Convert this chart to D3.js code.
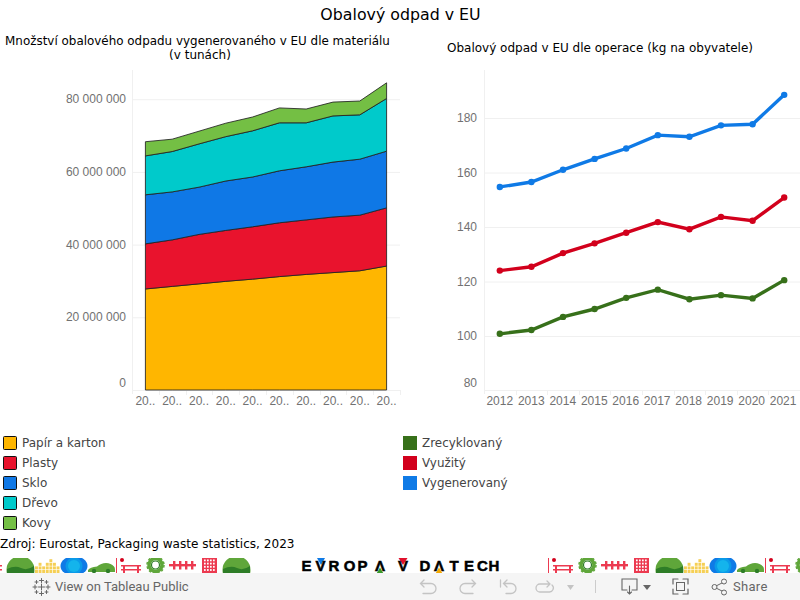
<!DOCTYPE html>
<html><head><meta charset="utf-8">
<script src="https://cdn.jsdelivr.net/npm/d3@7"></script>
<style>html,body{margin:0;padding:0;background:#fff;overflow:hidden}svg{display:block}</style>
</head><body><svg id="c" width="800" height="600"></svg>
<script>
const years=[2012,2013,2014,2015,2016,2017,2018,2019,2020,2021];
const materials=["Papír a karton","Plasty","Sklo","Dřevo","Kovy"];
const materialColors=["#ffb600","#e9132d","#0f78e6","#00cacb","#74bf44"];
const papir=[27.8,28.5,29.2,29.9,30.5,31.2,31.8,32.3,32.8,34.1];
const plasty=[12.4,12.8,13.6,14.0,14.4,14.8,15.0,15.3,15.3,16.0];
const sklo=[13.5,13.2,13.0,13.6,13.7,14.3,14.6,15.1,15.4,15.6];
const drevo=[10.7,11.1,11.9,12.2,12.7,13.2,12.1,12.7,12.2,14.5];
const kovy=[3.9,3.4,3.5,3.7,3.8,4.1,3.8,3.8,3.8,4.3];
const operations=["Zrecyklovaný","Využitý","Vygenerovaný"];
const opColors=["#37701a","#d2001c","#0f7ae6"];
const zrecyklovany=[100.8,102.2,107.0,109.9,114.0,117.0,113.5,115.0,113.8,120.5];
const vyuzity=[124.0,125.4,130.4,134.0,137.9,141.8,139.2,143.7,142.3,150.8];
const vygenerovany=[154.7,156.5,161.0,165.0,168.8,173.7,173.1,177.3,177.7,188.5];
const leftTicks=[0,20,40,60,80];
const rightTicks=[80,100,120,140,160,180];

const svg=d3.select("#c");
const DJ="DejaVu Sans",AR="Liberation Sans";
const txt=(x,y,s,o={})=>svg.append("text").attr("x",x).attr("y",y).text(s)
  .attr("font-family",o.f||DJ).attr("font-size",o.z||12).attr("fill",o.c||"#000")
  .attr("text-anchor",o.a||"start");
txt(400.5,20,"Obalový odpad v EU",{z:15.8,a:"middle"});
txt(197.5,45,"Množství obalového odpadu vygenerovaného v EU dle materiálu",{z:11.93,a:"middle"});
txt(200,59,"(v tunách)",{a:"middle"});
txt(600,52,"Obalový odpad v EU dle operace (kg na obyvatele)",{a:"middle"});

const grid="#f0f0f0",tickC="#717171";
// left chart
const xL=d3.scaleBand().domain(years).range([132,400]);
const cx=d=>xL(d)+xL.bandwidth()/2;
const yL=d3.scaleLinear().domain([0,80]).range([390,99.2]);
leftTicks.forEach(t=>svg.append("line").attr("x1",132).attr("x2",400).attr("y1",yL(t)+.5).attr("y2",yL(t)+.5).attr("stroke",grid));
svg.append("line").attr("x1",132.5).attr("x2",132.5).attr("y1",70).attr("y2",394).attr("stroke",grid);
years.forEach((d,i)=>{const x=Math.round(xL(d)+xL.step());
  svg.append("line").attr("x1",x+.5).attr("x2",x+.5).attr("y1",390).attr("y2",395).attr("stroke",grid);
  txt(cx(d),405,"20..",{f:AR,c:tickC,a:"middle"});});
leftTicks.forEach(t=>{const lab=t?t+" 000 000":"0";
  txt(126,t===0?387:yL(t)+4,lab,{f:AR,c:tickC,a:"end"});});
const rows=years.map((y,i)=>({y,m0:papir[i],m1:plasty[i],m2:sklo[i],m3:drevo[i],m4:kovy[i]}));
const stack=d3.stack().keys(["m0","m1","m2","m3","m4"])(rows);
const area=d3.area().x(d=>cx(d.data.y)).y0(d=>yL(d[0])).y1(d=>yL(d[1]));
svg.selectAll(".a").data(stack).join("path").attr("d",area)
  .attr("fill",(d,i)=>materialColors[i]).attr("stroke","#222").attr("stroke-width",1).attr("stroke-opacity",.85);

// right chart
const xR=d3.scaleBand().domain(years).range([484,800]);
const rx=d=>xR(d)+xR.bandwidth()/2;
const yR=d3.scaleLinear().domain([100,180]).range([336,118]);
rightTicks.filter(t=>t>80).forEach(t=>svg.append("line").attr("x1",484).attr("x2",800).attr("y1",yR(t)+.5).attr("y2",yR(t)+.5).attr("stroke",grid));
svg.append("line").attr("x1",484).attr("x2",800).attr("y1",390.5).attr("y2",390.5).attr("stroke",grid);
svg.append("line").attr("x1",484.5).attr("x2",484.5).attr("y1",70).attr("y2",394).attr("stroke",grid);
years.forEach((d,i)=>{const x=Math.round(xR(d)+xR.step());
  svg.append("line").attr("x1",x+.5).attr("x2",x+.5).attr("y1",390).attr("y2",395).attr("stroke",grid);
  txt(rx(d)-i*0.12,405,String(d),{f:AR,c:tickC,a:"middle"});});
rightTicks.forEach(t=>txt(477,t===80?387:yR(t)+4,t,{f:AR,c:tickC,a:"end"}));
const line=d3.line().x((d,i)=>rx(years[i])).y(d=>yR(d));
[zrecyklovany,vyuzity,vygenerovany].forEach((s,k)=>{
  svg.append("path").attr("d",line(s)).attr("fill","none").attr("stroke",opColors[k]).attr("stroke-width",3.4);
  svg.selectAll(null).data(s).join("circle").attr("cx",(d,i)=>rx(years[i])).attr("cy",d=>yR(d)).attr("r",3.2).attr("fill",opColors[k]);
});

// legends
materials.forEach((m,i)=>{const y=436+i*20;
  svg.append("rect").attr("x",3.5).attr("y",y+.5).attr("width",13).attr("height",13).attr("rx",1).attr("fill",materialColors[i]).attr("stroke","#111");
  txt(22,y+11,m,{c:"#444"});});
operations.forEach((m,i)=>{const y=436+i*20;
  svg.append("rect").attr("x",403).attr("y",y).attr("width",14).attr("height",14).attr("fill",opColors[i]);
  txt(422,y+11,m,{c:"#444",z:11.93});});
txt(0,548,"Zdroj: Eurostat, Packaging waste statistics, 2023",{z:12.08});

// decorative strip
const strip=svg.append("g");
const clip=svg.append("defs").append("clipPath").attr("id","st");clip.append("rect").attr("x",0).attr("y",558).attr("width",800).attr("height",15);
strip.attr("clip-path","url(#st)");
const R="#ec3a50",G="#5fa63a",Y="#f5cf55",B="#0f7ae6";
const ic={
 hill(x){strip.append("ellipse").attr("cx",x+13.5).attr("cy",570).attr("rx",14).attr("ry",14).attr("fill",G);
   strip.append("path").attr("d",`M${x} 569q8 -4 14 -1t13 -2v7h-27z`).attr("fill","#2e7d27");},
 bars(x){[2,3,2,3,4,3,2].forEach((h,i)=>{for(let j=0;j<h;j++)strip.append("rect").attr("x",x+i*3.6).attr("y",570-j*3.6).attr("width",2.9).attr("height",3).attr("fill",Y);});},
 disc(x){strip.append("ellipse").attr("cx",x+13).attr("cy",565.9).attr("rx",13.5).attr("ry",9.8).attr("fill",B);
   strip.append("circle").attr("cx",x+13).attr("cy",565.9).attr("r",8.5).attr("fill","#0a9ae8");
   strip.append("circle").attr("cx",x+13).attr("cy",565.9).attr("r",6).attr("fill","#14b4ec");},
 car(x){strip.append("path").attr("d",`M${x} 570q2 -3 9 -3.5q4 -3.5 9 -3.500q5 0 8 3.500q1 .5 1 3.500v2h-27z`).attr("fill",G);
   [6,20].forEach(d=>strip.append("circle").attr("cx",x+d).attr("cy",571).attr("r",2.2).attr("fill","#2e7d27"));},
 bench(x){strip.append("rect").attr("x",x).attr("y",558).attr("width",1).attr("height",15).attr("fill",R);
   strip.append("circle").attr("cx",x+6).attr("cy",560).attr("r",2).attr("fill","#d2001c");
   strip.append("path").attr("d",`M${x+5} 565h20v1.5h-20zM${x+5} 569h20v1.5h-20zM${x+7} 565h2v8h-2zM${x+21} 565h2v8h-2z`).attr("fill",R);},
 gear(x){strip.append("circle").attr("cx",x+9.5).attr("cy",565).attr("r",6.5).attr("fill","none").attr("stroke",G).attr("stroke-width",3.5);
   strip.append("circle").attr("cx",x+9.5).attr("cy",565).attr("r",4).attr("fill","none").attr("stroke","#2e7d27").attr("stroke-width",1.2);
   strip.append("circle").attr("cx",x+9.5).attr("cy",565).attr("r",8.5).attr("fill","none").attr("stroke",G).attr("stroke-width",1.5).attr("stroke-dasharray","2.5 2");},
 fence(x){strip.append("rect").attr("x",x).attr("y",564).attr("width",27).attr("height",2.4).attr("fill",R);
   [4,10,16,22].forEach(d=>strip.append("rect").attr("x",x+d).attr("y",561).attr("width",2.4).attr("height",8.500).attr("fill",R));},
 house(x){strip.append("rect").attr("x",x).attr("y",558).attr("width",15).attr("height",15).attr("fill",R);
   for(let i=0;i<4;i++)for(let j=0;j<4;j++)strip.append("rect").attr("x",x+2+i*3).attr("y",559.5+j*3.2).attr("width",1.7).attr("height",1.8).attr("fill","#fff");}
};
[["bench",-23],["hill",7],["bars",35],["disc",61],["car",88],["bench",116],["gear",146],["fence",169],["house",202],["hill",223],
 ["bench",548],["gear",578],["fence",601],["house",634],["hill",656],["bars",684],["disc",710],["car",737],["bench",765],["gear",795]].forEach(([k,x])=>ic[k](x));
// logo
const logoLetters=["E","V","R","O","P","Λ","V","D","Λ","T","E","C","H"];
const logoX=[306.5,320.5,334,349.5,362.5,380,403,425,439,454,469,482.5,494];
logoLetters.forEach((c,i)=>txt(logoX[i],571,c,{z:15,f:AR,a:"middle"}).attr("font-weight","700").attr("stroke","#000").attr("stroke-width",.5));
strip.append("path").attr("d","M317 558h8l-4 7z").attr("fill",B);
strip.append("path").attr("d","M376.500 573.500l3.500 -6 3.500 6z").attr("fill","#3a9a2a");
strip.append("path").attr("d","M398.500 558h9l-4.500 7z").attr("fill","#e0102c");
strip.append("path").attr("d","M435.500 573.500l3.500 -6 3.500 6z").attr("fill","#f5a800");

// toolbar
svg.append("rect").attr("x",0).attr("y",573).attr("width",800).attr("height",27).attr("fill","#f5f5f5");
const tc="#666",lc="#c4c4c4";
const tb=svg.append("g").attr("fill","none").attr("stroke-linecap","round");
[[35,587,2],[48,587,2],[41.500,580.500,2],[41.500,593.500,2],[36.500,582,1.500],[46.500,582,1.500],[36.500,592,1.500],[46.500,592,1.500],[41.500,587,3]].forEach(([x,y,r])=>{
  tb.append("path").attr("d",`M${x-r} ${y}h${2*r}M${x} ${y-r}v${2*r}`).attr("stroke",tc);});
txt(55,591,"View on Tableau Public",{f:"Roboto",z:13,c:"#666"});
tb.append("path").attr("d","M424 580l-3.500 3.500 3.500 3.500M421 583.500h10a5 5 0 0 1 0 10h-8M472 580l3.500 3.500 -3.500 3.500M475 583.500h-10a5 5 0 0 0 0 10h8").attr("stroke",lc).attr("stroke-width",1.3);
tb.append("path").attr("d","M500.500 580v7M507 580l-3.500 3.500 3.500 3.500M504 583.500h7a5 5 0 0 1 0 10h-5").attr("stroke",lc).attr("stroke-width",1.3);
tb.append("path").attr("d","M550 584h-10a4 4 0 0 0 0 8h9a4 4 0 0 0 3 -7M547 581l3 3 -3 3").attr("stroke",lc).attr("stroke-width",1.3);
svg.append("path").attr("d","M567 585h7l-3.500 5z").attr("fill",lc);
svg.append("line").attr("x1",595.5).attr("x2",595.5).attr("y1",580).attr("y2",593).attr("stroke","#ccc");
tb.append("path").attr("d","M627 590h-5v-11h15v11h-5M629.500 586v8M627.500 592l2 2 2 -2").attr("stroke",tc).attr("stroke-width",1.1);
svg.append("path").attr("d","M643 585h8l-4 5z").attr("fill",tc);
tb.append("path").attr("d","M673 584v-5h5M683 579h5v5M688 589v5h-5M678 594h-5v-5").attr("stroke",tc).attr("stroke-width",1.2);
tb.append("rect").attr("x",676.500).attr("y",582.500).attr("width",8).attr("height",8).attr("stroke",tc);
tb.append("path").attr("d","M714 587l10 -5M714 587l10 5").attr("stroke",tc);
[[714.500,587],[724,581.500],[724,592.500]].forEach(([x,y])=>svg.append("circle").attr("cx",x).attr("cy",y).attr("r",2.500).attr("fill","#f5f5f5").attr("stroke",tc));
txt(733,591,"Share",{f:"Roboto",z:13,c:"#666"}).attr("letter-spacing",.3);
</script></body></html>
